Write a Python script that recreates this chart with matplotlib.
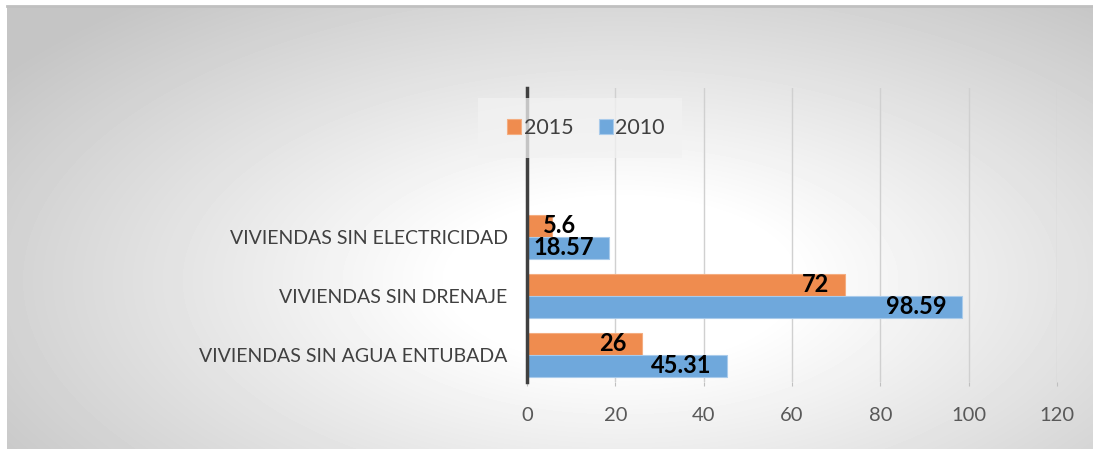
import numpy as np
import matplotlib
matplotlib.use("Agg")
import matplotlib.pyplot as plt
from matplotlib.patches import Rectangle
from matplotlib.lines import Line2D

# data
categories = ["VIVIENDAS SIN AGUA ENTUBADA", "VIVIENDAS SIN DRENAJE", "VIVIENDAS SIN ELECTRICIDAD"]
values_2015 = [26, 72, 5.6]
values_2010 = [45.31, 98.59, 18.57]
labels_2015 = ["26", "72", "5.6"]
labels_2010 = ["45.31", "98.59", "18.57"]
xticks = [0, 20, 40, 60, 80, 100, 120]

ORANGE = "#ef8c4f"
BLUE = "#6fa8dc"
plt.rcParams["font.family"] = ["Lato", "DejaVu Sans"]

W, H = 1093, 449
fig = plt.figure(figsize=(W / 100, H / 100), dpi=100)
fig.patch.set_facecolor("white")

# radial grey background of the chart area
bg = fig.add_axes([7 / W, 0, (W - 7) / W, (H - 6) / H], zorder=-2)
yy, xx = np.mgrid[6:H, 7:W]
d = np.sqrt(((xx - 620) / 560.0) ** 2 + ((yy - 280) / 270.0) ** 2)
v = 1 - 0.23 * np.clip((d - 0.3) / 1.05, 0, 1)
bg.imshow(v, cmap="gray", vmin=0, vmax=1, aspect="auto", interpolation="bilinear")
bg.axis("off")
fig.add_artist(Line2D([7 / W, 1], [1 - 6 / H, 1 - 6 / H], color="#c0c0c0", lw=2))

ax = fig.add_axes([527 / W, 1 - 382 / H, 530 / W, 294 / H])
ax.set_facecolor("none")

y = np.arange(len(categories))
h = 0.373
b15 = ax.barh(y + h / 2, values_2015, height=h, color=ORANGE, edgecolor="#f4ad80", lw=0.8, label="2015", zorder=3)
b10 = ax.barh(y - h / 2, values_2010, height=h, color=BLUE, edgecolor="#a9cbeb", lw=0.8, label="2010", zorder=3)

for bars, labs in [(b15, labels_2015), (b10, labels_2010)]:
    for bar, lab in zip(bars, labs):
        w = bar.get_width()
        yc = bar.get_y() + bar.get_height() / 2
        if w < 10:
            ax.text(3.6, yc, lab, ha="left", va="center", fontsize=17, fontweight="bold", zorder=4)
        else:
            ax.text(w - 3.5, yc, lab, ha="right", va="center", fontsize=17, fontweight="bold", zorder=4)

ax.set_xlim(0, 120)
ax.set_ylim(-0.458, 4.525)
ax.set_xticks(xticks)
ax.set_yticks(y)
ax.set_yticklabels(categories)
ax.grid(axis="x", color="#d0d0d0", lw=1)
ax.set_axisbelow(True)
ax.tick_params(axis="x", length=3, color="#bfbfbf", labelsize=14.5, labelcolor="#595959", pad=15)
ax.tick_params(axis="y", length=0, labelsize=14, labelcolor="#404040", pad=14)
for s in ["top", "right", "bottom"]:
    ax.spines[s].set_visible(False)
ax.spines["left"].set_color("#404040")
ax.spines["left"].set_linewidth(2.5)
ax.spines["left"].set_zorder(5)

# legend box
fig.add_artist(Rectangle((478 / W, 1 - 158 / H), 204 / W, 60 / H, transform=fig.transFigure,
                         facecolor="#f2f2f2", edgecolor="none", alpha=0.75, zorder=6))
leg = fig.legend(handles=[b15, b10], loc="center", bbox_to_anchor=(586 / W, 1 - 128 / H),
                 ncol=2, frameon=False, fontsize=15.5, handlelength=0.65, handleheight=0.65,
                 handletextpad=0.1, columnspacing=1.2)
for t in leg.get_texts():
    t.set_color("#404040")
leg.set_zorder(7)

fig.savefig("out.png", dpi=100)
